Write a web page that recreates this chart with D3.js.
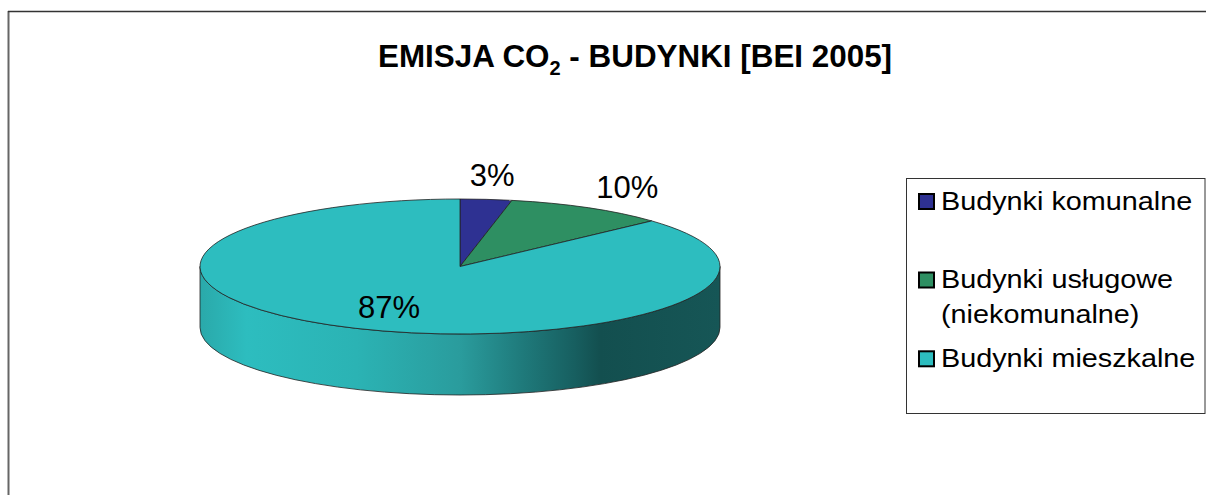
<!DOCTYPE html>
<html>
<head>
<meta charset="utf-8">
<style>
    html, body { margin: 0; padding: 0; background: #fff; overflow: hidden; }
    text { font-family: "Liberation Sans", Arial, sans-serif; fill: #000; }
</style>
<script src="https://cdn.jsdelivr.net/npm/d3@7"></script>
</head>
<body>
<script>
(function() {

    // Chart data
    var categories = ['Budynki komunalne', 'Budynki usługowe', 'Budynki mieszkalne'];
    var values = [3.2, 10, 86.8];
    var colors = ['#2e3192', '#2e8f62', '#2dbdbf'];

    // Legend text, one entry of lines per category
    var legendLines = [['Budynki komunalne'], ['Budynki usługowe', '(niekomunalne)'], ['Budynki mieszkalne']];
    var legendBaselines = [209.5, 288, 366.8];

    var width = 1206,
        height = 495;

    // Ellipse of the pie top and depth of the rim
    var cx = 460,
        cy = 266.5,
        rx = 260,
        ry = 67.5,
        depth = 61,
        squash = ry / rx;

    // Label distance from the centre, as a share of the radii
    var labelFactorX = [1.23, 1.305, 0.678];
    var labelFactorY = [1.36, 1.35, 0.67];

    var svg = d3.select('body').append('svg')
        .attr('width', width)
        .attr('height', height)
        .style('display', 'block');

    // Side shading runs left to right across the rim
    var grad = svg.append('defs').append('linearGradient')
        .attr('id', 'rim')
        .attr('x1', 0).attr('x2', 1)
        .attr('y1', 0).attr('y2', 0);

    [[0, '#2aa9aa'], [0.09, '#2dbdbf'], [0.3, '#2bb3b4'], [0.5, '#2a9c9d'], [0.62, '#1f7a7b'], [0.72, '#175f60'], [0.77, '#134f4f'], [1, '#165656']]
        .forEach(function(s) {
            grad.append('stop').attr('offset', s[0]).attr('stop-color', s[1]);
        });

    // Outer chart frame, runs off the right and bottom of the picture
    svg.append('line')
        .attr('x1', 8.5).attr('x2', 8.5)
        .attr('y1', 11).attr('y2', height)
        .attr('stroke', '#666')
        .attr('stroke-width', 2);
    svg.append('line')
        .attr('x1', 8).attr('x2', width)
        .attr('y1', 11.5).attr('y2', 11.5)
        .attr('stroke', '#333')
        .attr('stroke-width', 1.5);

    // Title
    var title = svg.append('text')
        .attr('x', 378)
        .attr('y', 67)
        .attr('font-size', 31.4)
        .attr('font-weight', 'bold');
    title.append('tspan').text('EMISJA CO');
    title.append('tspan').attr('font-size', 20).attr('dy', 8).text('2');
    title.append('tspan').attr('dy', -8).text(' - BUDYNKI [BEI 2005]');

    // Pie is drawn as a circle and squashed to an ellipse
    var pieGroup = svg.append('g')
        .attr('transform', 'translate(' + cx + ',' + cy + ') scale(1,' + squash + ')');

    var rimPath = d3.path();
    rimPath.moveTo(-rx, 0);
    rimPath.arc(0, 0, rx, Math.PI, 0, true);
    rimPath.lineTo(rx, depth / squash);
    rimPath.arc(0, depth / squash, rx, 0, Math.PI, false);
    rimPath.closePath();

    pieGroup.append('path')
        .attr('d', rimPath.toString())
        .attr('fill', 'url(#rim)')
        .attr('stroke', '#222')
        .attr('stroke-width', 0.8)
        .attr('vector-effect', 'non-scaling-stroke');

    var pie = d3.pie().sort(null)(values);
    var arc = d3.arc().innerRadius(0).outerRadius(rx);

    pieGroup.selectAll('path.slice')
        .data(pie)
        .enter().append('path')
        .attr('class', 'slice')
        .attr('d', arc)
        .attr('fill', function(d, i) { return colors[i]; })
        .attr('stroke', '#222')
        .attr('stroke-width', 0.8)
        .attr('vector-effect', 'non-scaling-stroke');

    // Percent labels
    svg.selectAll('text.pct')
        .data(pie)
        .enter().append('text')
        .attr('class', 'pct')
        .attr('font-size', 31)
        .attr('text-anchor', 'middle')
        .attr('dominant-baseline', 'central')
        .attr('x', function(d, i) {
            var mid = (d.startAngle + d.endAngle) / 2;
            return cx + Math.sin(mid) * rx * labelFactorX[i];
        })
        .attr('y', function(d, i) {
            var mid = (d.startAngle + d.endAngle) / 2;
            return cy - Math.cos(mid) * ry * labelFactorY[i];
        })
        .text(function(d) { return Math.round(d.value) + '%'; });

    // Legend box
    svg.append('rect')
        .attr('x', 906.5)
        .attr('y', 178.5)
        .attr('width', 298.5)
        .attr('height', 235)
        .attr('fill', '#fff')
        .attr('stroke', '#333')
        .attr('stroke-width', 1);

    var legend = svg.selectAll('g.legend')
        .data(categories)
        .enter().append('g')
        .attr('class', 'legend');

    legend.append('rect')
        .attr('x', 919)
        .attr('y', function(d, i) { return legendBaselines[i] - 15.5; })
        .attr('width', 15)
        .attr('height', 15)
        .attr('fill', function(d, i) { return colors[i]; })
        .attr('stroke', '#000')
        .attr('stroke-width', 2);

    // Legend text in the reference is a little wider than it is tall
    legend.each(function(d, i) {
        d3.select(this).selectAll('text')
            .data(legendLines[i])
            .enter().append('text')
            .attr('transform', function(line, j) {
                return 'translate(941,' + (legendBaselines[i] + j * 35) + ') scale(1.087,1)';
            })
            .attr('font-size', 26.5)
            .text(function(line) { return line; });
    });

})();
</script>
</body>
</html>
